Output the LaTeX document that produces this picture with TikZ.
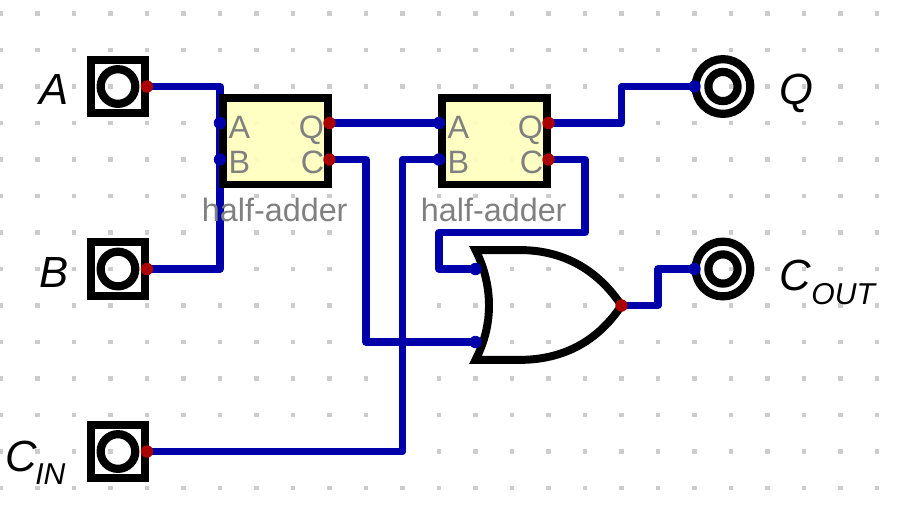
\documentclass[tikz,border=0pt]{standalone}
\usepackage{fontspec}
\setmainfont{Liberation Sans}
\usetikzlibrary{backgrounds}

\definecolor{wireblue}{HTML}{0000AA}
\definecolor{pinred}{HTML}{AA0000}
\definecolor{dotgray}{HTML}{CCCCCC}
\definecolor{boxyellow}{HTML}{FFFFC0}

\begin{document}
\begin{tikzpicture}[y=-1cm,
      griddot/.style={fill=dotgray},
      wire/.style={draw=wireblue,line width=5.8pt,line join=round},
      inpin/.style={circle,fill=wireblue,inner sep=0pt,minimum size=.34cm},
      outpin/.style={circle,fill=pinred,inner sep=0pt,minimum size=.34cm},
      inbox/.style={draw,line width=6.2pt,minimum width=1.5cm,minimum height=1.47cm,inner sep=0pt},
      ring/.style={circle,draw,line width=6.4pt,inner sep=0pt,minimum size=#1},
      adder/.style={draw,fill=boxyellow,fill opacity=.93,line width=6.2pt,minimum width=2.9cm,minimum height=2.37cm,inner sep=0pt},
      gate/.style={draw,line width=6.2pt,miter limit=10},
      pinlabel/.style={text=gray,font=\fontsize{25.2}{25.2}\selectfont,inner sep=0pt,anchor=base},
      ionlabel/.style={font=\fontsize{34}{34}\selectfont\itshape,inner sep=0pt,anchor=base west}]
      \useasboundingbox (-.027,-.37) rectangle (24.63,13.85);

      \begin{scope}[on background layer]
      \foreach \x in {0,...,24}
        \foreach \y in {0,...,13}
          \fill[griddot] (\x-.06,\y-.06) rectangle ++(.12,.12);
      \end{scope}

      % inputs
      \node[inbox] (boxA) at (3.205,2) {};
      \node[ring=.95cm] (ringA) at (3.205,2) {};
      \node[outpin] (pA) at (4,2) {};
      \node[ionlabel] (nameA) at (1.06,2.5) {A};
      \node[inbox] (boxB) at (3.205,7) {};
      \node[ring=.95cm] (ringB) at (3.205,7) {};
      \node[outpin] (pB) at (4,7) {};
      \node[ionlabel] (nameB) at (1.06,7.5) {B};
      \node[inbox] (boxC) at (3.205,12) {};
      \node[ring=.95cm] (ringC) at (3.205,12) {};
      \node[outpin] (pC) at (4,12) {};
      \node[ionlabel] (nameC) at (.13,12.55) {C\kern-.05em\raisebox{-.3em}{\fontsize{23.5}{23.5}\selectfont IN}};

      % half-adders
      \node[adder] (hA) at (7.52,3.5) {};
      \node[inpin] (hAa) at (6,3) {};
      \node[inpin] (hAb) at (6,4) {};
      \node[outpin] (hAq) at (9,3) {};
      \node[outpin] (hAc) at (9,4) {};
      \node[pinlabel,anchor=base west] (hAla) at (6.23,3.42) {A};
      \node[pinlabel,anchor=base west] (hAlb) at (6.23,4.38) {B};
      \node[pinlabel,anchor=base east] (hAlq) at (8.86,3.42) {Q};
      \node[pinlabel,anchor=base east] (hAlc) at (8.86,4.38) {C};
      \node[adder] (hB) at (13.52,3.5) {};
      \node[inpin] (hBa) at (12,3) {};
      \node[inpin] (hBb) at (12,4) {};
      \node[outpin] (hBq) at (15,3) {};
      \node[outpin] (hBc) at (15,4) {};
      \node[pinlabel,anchor=base west] (hBla) at (12.23,3.42) {A};
      \node[pinlabel,anchor=base west] (hBlb) at (12.23,4.38) {B};
      \node[pinlabel,anchor=base east] (hBlq) at (14.86,3.42) {Q};
      \node[pinlabel,anchor=base east] (hBlc) at (14.86,4.38) {C};

      % or gate
      \draw[gate] (13.0,6.48) -- (14.2,6.48)
        .. controls (15.5,6.48) and (16.4,7.1) .. (17,8)
        .. controls (16.4,8.9) and (15.5,9.49) .. (14.2,9.49)
        -- (13.0,9.49)
        .. controls (13.25,9) and (13.37,8.5) .. (13.37,8)
        .. controls (13.37,7.5) and (13.25,6.97) .. cycle;
      \node[inpin] (orA) at (13,7) {};
      \node[inpin] (orB) at (13,9) {};
      \node[outpin] (orQ) at (17,8) {};

      % outputs
      \node[ring=1.5cm] (ringQ) at (19.78,2) {};
      \node[ring=.8cm] (coreQ) at (19.78,2) {};
      \node[inpin] (pQ) at (19,2) {};
      \node[ionlabel] (nameQ) at (21.33,2.5) {Q};
      \node[ring=1.5cm] (ringO) at (19.78,7) {};
      \node[ring=.8cm] (coreO) at (19.78,7) {};
      \node[inpin] (pO) at (19,7) {};
      \node[ionlabel] (nameO) at (21.33,7.6) {C\raisebox{-.3em}{\fontsize{23.5}{23.5}\selectfont OUT}};

      \coordinate (kneeC) at (10,4);
      \coordinate (kneeI) at (11,12);
      \coordinate (kneeQ) at (17,3);
      \coordinate (kneeO) at (18,8);
      \coordinate (kneeCr) at (16,4);
      \coordinate (kneeCb) at (12,6);

      \begin{scope}[on background layer]
      \draw[wire] (pA.center) -| (hAa.center);
      \draw[wire] (pB.center) -| (hAb.center);
      \draw[wire] (hAa.center) -- (hAb.center);
      \draw[wire] (hAq.center) -- (hBa.center);
      \draw[wire] (hAc.center) -- (kneeC) |- (orB.center);
      \draw[wire] (pC.center) -- (kneeI) |- (hBb.center);
      \draw[wire] (hBq.center) -- (kneeQ) |- (pQ.center);
      \draw[wire] (hBc.center) -- (kneeCr) |- (kneeCb) |- (orA.center);
      \draw[wire] (orQ.center) -- (kneeO) |- (pO.center);
      \end{scope}

      \node[pinlabel] (labA) at (7.5,5.7) {half-adder};
      \node[pinlabel] (labB) at (13.5,5.7) {half-adder};
\end{tikzpicture}
\end{document}
